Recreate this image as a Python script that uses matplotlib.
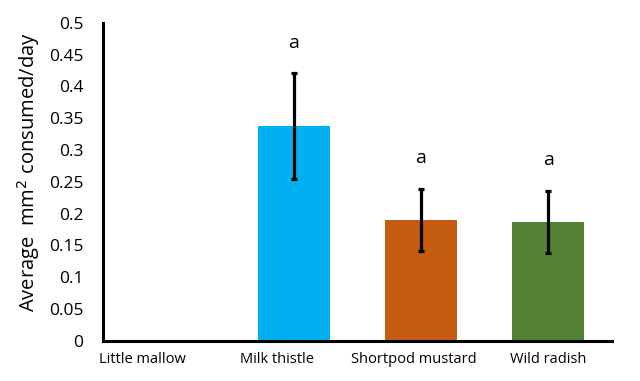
import matplotlib
matplotlib.use('Agg')
import matplotlib.pyplot as plt
import numpy as np

plt.rcParams['font.family'] = ['Open Sans', 'DejaVu Sans']

plants = ['Little mallow', 'Milk thistle', 'Shortpod mustard', 'Wild radish']
means = [0, 0.338, 0.19, 0.187]
errs = [0, 0.083, 0.049, 0.049]
letters = ['', 'a', 'a', 'a']
colors = ['#FFFFFF', '#00B0F0', '#C55A11', '#548235']
label_shift = [-0.19, -0.13, -0.06, 0.0]  # labels sit a bit left of the bars
yticks = np.arange(0, 0.5001, 0.05)

fig = plt.figure(figsize=(6.4, 3.81), dpi=100)
ax = fig.add_axes([0.161, 0.106, 0.795, 0.834])

x = np.arange(len(plants))
has = np.array(errs) > 0
ax.bar(x, means, width=0.565, color=colors)
ax.errorbar(x[has], np.array(means)[has], yerr=np.array(errs)[has], fmt='none',
            ecolor='black', elinewidth=2.3, capsize=2.5, capthick=2.3)

for xi, m, e, t in zip(x, means, errs, letters):
    if t:
        ax.annotate(t, (xi, m + e), xytext=(0, 22), textcoords='offset points',
                    ha='center', va='center', fontsize=14)

ax.set_xlim(-0.5, 3.5)
ax.set_ylim(0, 0.5)
ax.set_yticks(yticks)
ax.set_yticklabels(['0'] + ['%g' % v for v in yticks[1:]], fontsize=12.5)
ax.set_xticks(x + np.array(label_shift))
ax.set_xticklabels(plants, fontsize=10.5)
ax.tick_params(axis='y', length=0, pad=14)
ax.tick_params(axis='x', length=0, pad=8)

for s in ['top', 'right']:
    ax.spines[s].set_visible(False)
for s in ['left', 'bottom']:
    ax.spines[s].set_linewidth(2.2)

ax.set_ylabel('Average  mm$^2$ consumed/day', fontsize=14.5)
ax.yaxis.set_label_coords(-0.12, 0.53)

fig.savefig('out.png', dpi=100)
